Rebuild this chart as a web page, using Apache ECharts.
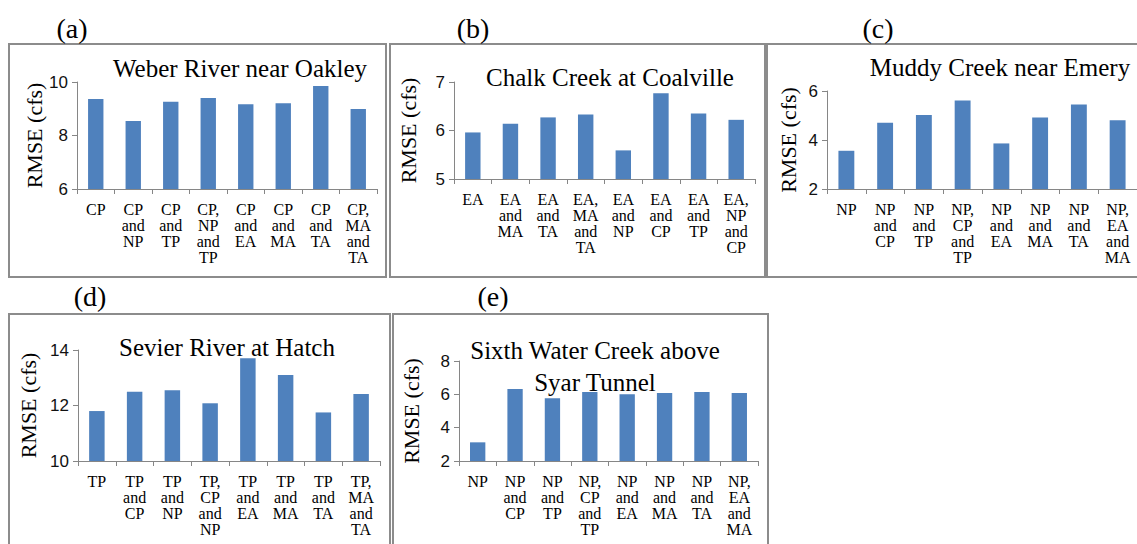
<!DOCTYPE html>
<html>
<head>
<meta charset="utf-8">
<script src="https://cdn.jsdelivr.net/npm/echarts@6/dist/echarts.min.js"></script>
<style>
  html, body { margin: 0; padding: 0; background: #fff; }
  #chart { width: 1137px; height: 544px; }
</style>
</head>
<body>
<div id="chart"></div>
<script>
// RMSE (cfs) of each predictor combination, one panel per gauging station
const catsA = ['CP', 'CP\nand\nNP', 'CP\nand\nTP', 'CP,\nNP\nand\nTP', 'CP\nand\nEA', 'CP\nand\nMA', 'CP\nand\nTA', 'CP,\nMA\nand\nTA'];
const valsA = [9.36, 8.54, 9.26, 9.40, 9.17, 9.21, 9.85, 8.99];

const catsB = ['EA', 'EA\nand\nMA', 'EA\nand\nTA', 'EA,\nMA\nand\nTA', 'EA\nand\nNP', 'EA\nand\nCP', 'EA\nand\nTP', 'EA,\nNP\nand\nCP'];
const valsB = [5.96, 6.14, 6.27, 6.33, 5.59, 6.77, 6.35, 6.22];

const catsC = ['NP', 'NP\nand\nCP', 'NP\nand\nTP', 'NP,\nCP\nand\nTP', 'NP\nand\nEA', 'NP\nand\nMA', 'NP\nand\nTA', 'NP,\nEA\nand\nMA'];
const valsC = [3.56, 4.70, 5.02, 5.61, 3.86, 4.92, 5.45, 4.81];

const catsD = ['TP', 'TP\nand\nCP', 'TP\nand\nNP', 'TP,\nCP\nand\nNP', 'TP\nand\nEA', 'TP\nand\nMA', 'TP\nand\nTA', 'TP,\nMA\nand\nTA'];
const valsD = [11.80, 12.50, 12.55, 12.08, 13.70, 13.10, 11.75, 12.41];

const catsE = ['NP', 'NP\nand\nCP', 'NP\nand\nTP', 'NP,\nCP\nand\nTP', 'NP\nand\nEA', 'NP\nand\nMA', 'NP\nand\nTA', 'NP,\nEA\nand\nMA'];
const valsE = [3.12, 6.32, 5.76, 6.14, 6.00, 6.08, 6.14, 6.08];

const titles = ['Weber River near Oakley', 'Chalk Creek at Coalville', 'Muddy Creek near Emery', 'Sevier River at Hatch', 'Sixth Water Creek above\nSyar Tunnel'];
const panelTags = ['(a)', '(b)', '(c)', '(d)', '(e)'];
const yTicks = [[6, 10, 2], [5, 7, 1], [2, 6, 2], [10, 14, 2], [2, 8, 2]]; // min, max, step
const yName = 'RMSE (cfs)';

const SERIF = "'Liberation Serif', 'Times New Roman', serif";
const SANS = "'Liberation Sans', Arial, sans-serif";
const AXIS_GREY = '#868686';
const BAR_BLUE = '#4F81BD';

const cats = [catsA, catsB, catsC, catsD, catsE];
const vals = [valsA, valsB, valsC, valsD, valsE];

// panel geometry: plot area, frame, title anchor, tag anchor, y-name gap
const layout = [
  { grid: [77, 82, 300, 107],  frame: [9, 44, 377, 233],  title: [240, 68],  tag: [72, 28],  gap: 30 },
  { grid: [454, 82, 301, 97],  frame: [390, 44, 375, 233], title: [610, 77],  tag: [473, 28], gap: 35 },
  { grid: [827, 91, 310, 98],  frame: [767, 44, 372, 233], title: [1000, 67], tag: [878, 28], gap: 28 },
  { grid: [78, 350, 302, 111], frame: [9, 314, 381, 240],  title: [227, 347], tag: [90, 296], gap: 39 },
  { grid: [459, 361, 299, 100], frame: [393, 314, 375, 240], title: [595, 366], tag: [493, 296], gap: 37 }
];

const grids = [], xAxes = [], yAxes = [], series = [], graphics = [];

layout.forEach((p, i) => {
  grids.push({ left: p.grid[0], top: p.grid[1], width: p.grid[2], height: p.grid[3] });
  xAxes.push({
    type: 'category', gridIndex: i, data: cats[i],
    axisLine: { lineStyle: { color: AXIS_GREY, width: 1 } },
    axisTick: { show: true, length: 5, lineStyle: { color: AXIS_GREY } },
    axisLabel: { interval: 0, margin: 12, color: '#000', fontFamily: SERIF, fontSize: 16, lineHeight: 16 }
  });
  yAxes.push({
    type: 'value', gridIndex: i,
    min: yTicks[i][0], max: yTicks[i][1], interval: yTicks[i][2],
    splitLine: { show: false },
    axisLine: { show: true, lineStyle: { color: AXIS_GREY, width: 1 } },
    axisTick: { show: true, length: 5, lineStyle: { color: AXIS_GREY } },
    axisLabel: { margin: 9, color: '#111', fontFamily: SANS, fontSize: 17 },
    name: yName, nameLocation: 'middle', nameGap: p.gap, nameRotate: 90,
    nameTextStyle: { color: '#000', fontFamily: SERIF, fontSize: 22 }
  });
  series.push({
    type: 'bar', xAxisIndex: i, yAxisIndex: i, data: vals[i],
    barWidth: '41%', itemStyle: { color: BAR_BLUE }, silent: true
  });
  graphics.push({
    type: 'rect', silent: true, z: 0,
    shape: { x: p.frame[0], y: p.frame[1], width: p.frame[2], height: p.frame[3] },
    style: { fill: 'none', stroke: '#8c8c8c', lineWidth: 2 }
  });
  graphics.push({
    type: 'text', silent: true, x: p.title[0], y: p.title[1],
    style: { text: titles[i], fill: '#000', font: '25px ' + SERIF, textAlign: 'center', textVerticalAlign: 'middle', lineHeight: 32 }
  });
  graphics.push({
    type: 'text', silent: true, x: p.tag[0], y: p.tag[1],
    style: { text: panelTags[i], fill: '#000', font: '28px ' + SERIF, textAlign: 'center', textVerticalAlign: 'middle' }
  });
});

const chart = echarts.init(document.getElementById('chart'), null, { renderer: 'svg' });
chart.setOption({
  animation: false,
  backgroundColor: '#fff',
  grid: grids,
  xAxis: xAxes,
  yAxis: yAxes,
  series: series,
  graphic: graphics
});
</script>
</body>
</html>
